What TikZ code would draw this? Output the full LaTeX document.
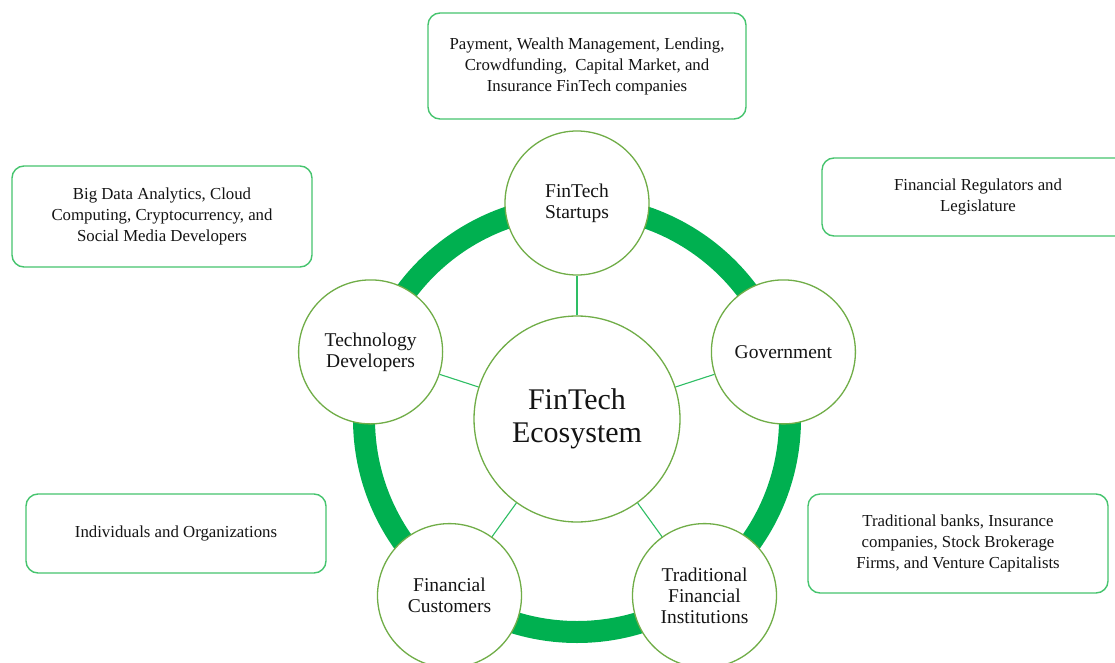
\documentclass[tikz,border=0pt]{standalone}
\usepackage{fontspec}
\setmainfont{Liberation Serif}
\begin{document}
\begin{tikzpicture}[x=1pt,y=-1pt,
  every node/.style={text=black!92},
  ringline/.style={draw=ringgreen,line width=22pt},
  hub/.style={circle,draw=olivegreen,line width=1.3pt,fill=white,minimum size=206pt,inner sep=0pt,align=center,font=\fontsize{30}{33}\selectfont},
  member/.style={circle,draw=olivegreen,line width=1.3pt,fill=white,minimum size=144pt,inner sep=0pt,align=center,font=\fontsize{19.5}{21}\selectfont},
  infobox/.style={rectangle,rounded corners=12pt,draw=boxgreen,line width=1.4pt,fill=white,inner sep=0pt,align=center,font=\fontsize{16.8}{21}\selectfont},
  spoke/.style={draw=spokegreen,line width=1.1pt}]
\definecolor{ringgreen}{RGB}{0,176,80}
\definecolor{olivegreen}{RGB}{112,173,71}
\definecolor{spokegreen}{RGB}{46,190,100}
\definecolor{boxgreen}{RGB}{70,196,110}
\clip (0,0) rectangle (1115,663);
\fill[white] (0,0) rectangle (1115,663);

% outer ring linking the five members
\draw[ringline] (577,419) circle[radius=213];

% hub and members
\node[hub] (eco) at (577,419) {FinTech\\Ecosystem};
\node[member] (startups) at (577,203) {FinTech\\Startups};
\node[member] (tech) at (370.6,351.9) {Technology\\Developers};
\node[member] (gov) at (783.4,351.9) {Government};
\node[member] (cust) at (449.5,595.6) {Financial\\Customers};
\node[member] (trad) at (704.5,595.6) {Traditional\\Financial\\Institutions};

% spokes from hub to members
\draw[spoke] (eco) -- (startups);
\draw[spoke] (eco) -- (tech);
\draw[spoke] (eco) -- (gov);
\draw[spoke] (eco) -- (cust);
\draw[spoke] (eco) -- (trad);

% description boxes
\node[infobox,minimum width=318pt,minimum height=106pt] (dstart) at (587,66)
  {Payment, Wealth Management, Lending,\\Crowdfunding,\ \ Capital Market, and\\Insurance FinTech companies};
\node[infobox,minimum width=300pt,minimum height=101pt] (dtech) at (162,216.5)
  {Big Data Analytics, Cloud\\Computing, Cryptocurrency, and\\Social Media Developers};
\node[infobox,minimum width=312pt,minimum height=78pt] (dgov) at (978,197)
  {Financial Regulators and\\Legislature};
\node[infobox,minimum width=300pt,minimum height=79pt] (dcust) at (176,533.5)
  {Individuals and Organizations};
\node[infobox,minimum width=300pt,minimum height=99pt] (dtrad) at (958,543.5)
  {Traditional banks, Insurance\\companies, Stock Brokerage\\Firms, and Venture Capitalists};
\end{tikzpicture}
\end{document}
